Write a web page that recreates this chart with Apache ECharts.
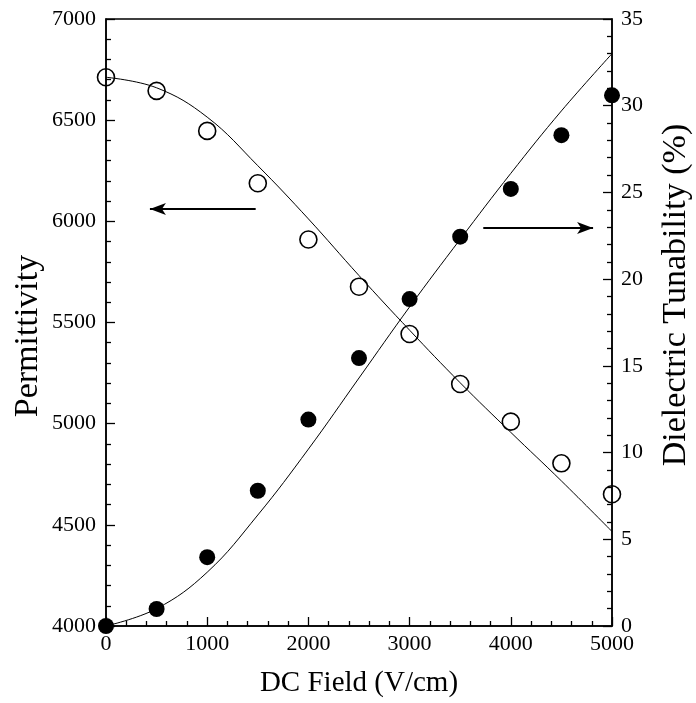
<!DOCTYPE html>
<html>
<head>
<meta charset="utf-8">
<script src="https://cdn.jsdelivr.net/npm/echarts@6/dist/echarts.min.js"></script>
<style>
html,body{margin:0;padding:0;background:#fff;}
#chart{width:696px;height:703px;}
</style>
</head>
<body>
<div id="chart"></div>
<script>
// DC field values (V/cm)
const fieldValues = [0, 500, 1000, 1500, 2000, 2500, 3000, 3500, 4000, 4500, 5000];
// Measured permittivity (open circles, left axis)
const permittivity = [6712, 6645, 6447, 6188, 5910, 5677, 5443, 5196, 5010, 4804, 4651];
// Measured tunability % (filled circles, right axis)
const tunability = [0, 0.98, 3.97, 7.8, 11.9, 15.45, 18.85, 22.45, 25.2, 28.3, 30.6];
// Fitted curves
const permittivityFit = [6712, 6660, 6515, 6275, 6012, 5732, 5462, 5202, 4957, 4717, 4467];
const tunabilityFit = [0, 1.0, 3.1, 6.4, 10.2, 14.3, 18.4, 22.3, 26.1, 29.7, 33.0];
// Arrow annotations (data coordinates)
const leftArrowX = [1479, 434];
const leftArrowY = 6061;
const rightArrowX = [3728, 4813];
const rightArrowY = 22.95;
// Axis titles
const xTitle = 'DC Field (V/cm)';
const yLeftTitle = 'Permittivity';
const yRightTitle = 'Dielectric Tunability (%)';

const FONT = 'Liberation Serif';
const pair = (xs, ys) => xs.map((x, i) => [x, ys[i]]);

const chart = echarts.init(document.getElementById('chart'), null, {renderer: 'canvas'});

function axisBase(extra) {
  return Object.assign({
    axisLine: {show: true, onZero: false, lineStyle: {color: '#000', width: 1.5}},
    axisTick: {show: true, inside: true, length: 9, lineStyle: {color: '#000', width: 1.3}},
    minorTick: {show: true, splitNumber: 5, length: 5, lineStyle: {color: '#000', width: 1.3}},
    splitLine: {show: false},
    minorSplitLine: {show: false}
  }, extra);
}
function labelStyle(margin) {
  return {color: '#000', fontFamily: FONT, fontSize: 22, margin: margin, formatter: v => String(v)};
}
const arrowLine = (xs, y) => ({
  silent: true, animation: false,
  symbol: ['none', 'arrow'], symbolSize: [9, 16],
  label: {show: false},
  emphasis: {disabled: true},
  lineStyle: {color: '#000', width: 2, type: 'solid', opacity: 1},
  data: [[{coord: [xs[0], y]}, {coord: [xs[1], y]}]]
});

const option = {
  animation: false,
  backgroundColor: '#fff',
  grid: {left: 106, right: 84, top: 19, bottom: 76, show: true, borderColor: '#000', borderWidth: 1.5, backgroundColor: 'transparent'},
  xAxis: axisBase({
    type: 'value', min: 0, max: 5000, interval: 1000,
    axisLabel: labelStyle(7),
    name: xTitle, nameLocation: 'middle', nameGap: 43,
    nameTextStyle: {color: '#000', fontFamily: FONT, fontSize: 29}
  }),
  yAxis: [
    axisBase({type: 'value', min: 4000, max: 7000, interval: 500, position: 'left', axisLabel: labelStyle(10)}),
    axisBase({type: 'value', min: 0, max: 35, interval: 5, position: 'right', axisLabel: labelStyle(9)})
  ],
  graphic: [
    {type: 'text', x: 28, y: 336, rotation: Math.PI / 2,
     style: {text: yLeftTitle, fontFamily: FONT, fontSize: 34, fill: '#000', align: 'center', verticalAlign: 'middle'}},
    {type: 'text', x: 676, y: 295, rotation: Math.PI / 2,
     style: {text: yRightTitle, fontFamily: FONT, fontSize: 34, fill: '#000', align: 'center', verticalAlign: 'middle'}}
  ],
  series: [
    {
      type: 'line', yAxisIndex: 0, data: pair(fieldValues, permittivityFit),
      smooth: 0.4, showSymbol: false, symbol: 'none', clip: false,
      lineStyle: {color: '#000', width: 1}, silent: true
    },
    {
      type: 'line', yAxisIndex: 1, data: pair(fieldValues, tunabilityFit),
      smooth: 0.4, showSymbol: false, symbol: 'none', clip: false,
      lineStyle: {color: '#000', width: 1}, silent: true
    },
    {
      type: 'scatter', yAxisIndex: 0, data: pair(fieldValues, permittivity),
      symbol: 'circle', symbolSize: 17, clip: false, silent: true,
      itemStyle: {color: 'rgba(0,0,0,0)', borderColor: '#000', borderWidth: 1.6, opacity: 1},
      markLine: arrowLine(leftArrowX, leftArrowY)
    },
    {
      type: 'scatter', yAxisIndex: 1, data: pair(fieldValues, tunability),
      symbol: 'circle', symbolSize: 16, clip: false, silent: true,
      itemStyle: {color: '#000', opacity: 1},
      markLine: arrowLine(rightArrowX, rightArrowY)
    }
  ]
};
chart.setOption(option);
</script>
</body>
</html>
